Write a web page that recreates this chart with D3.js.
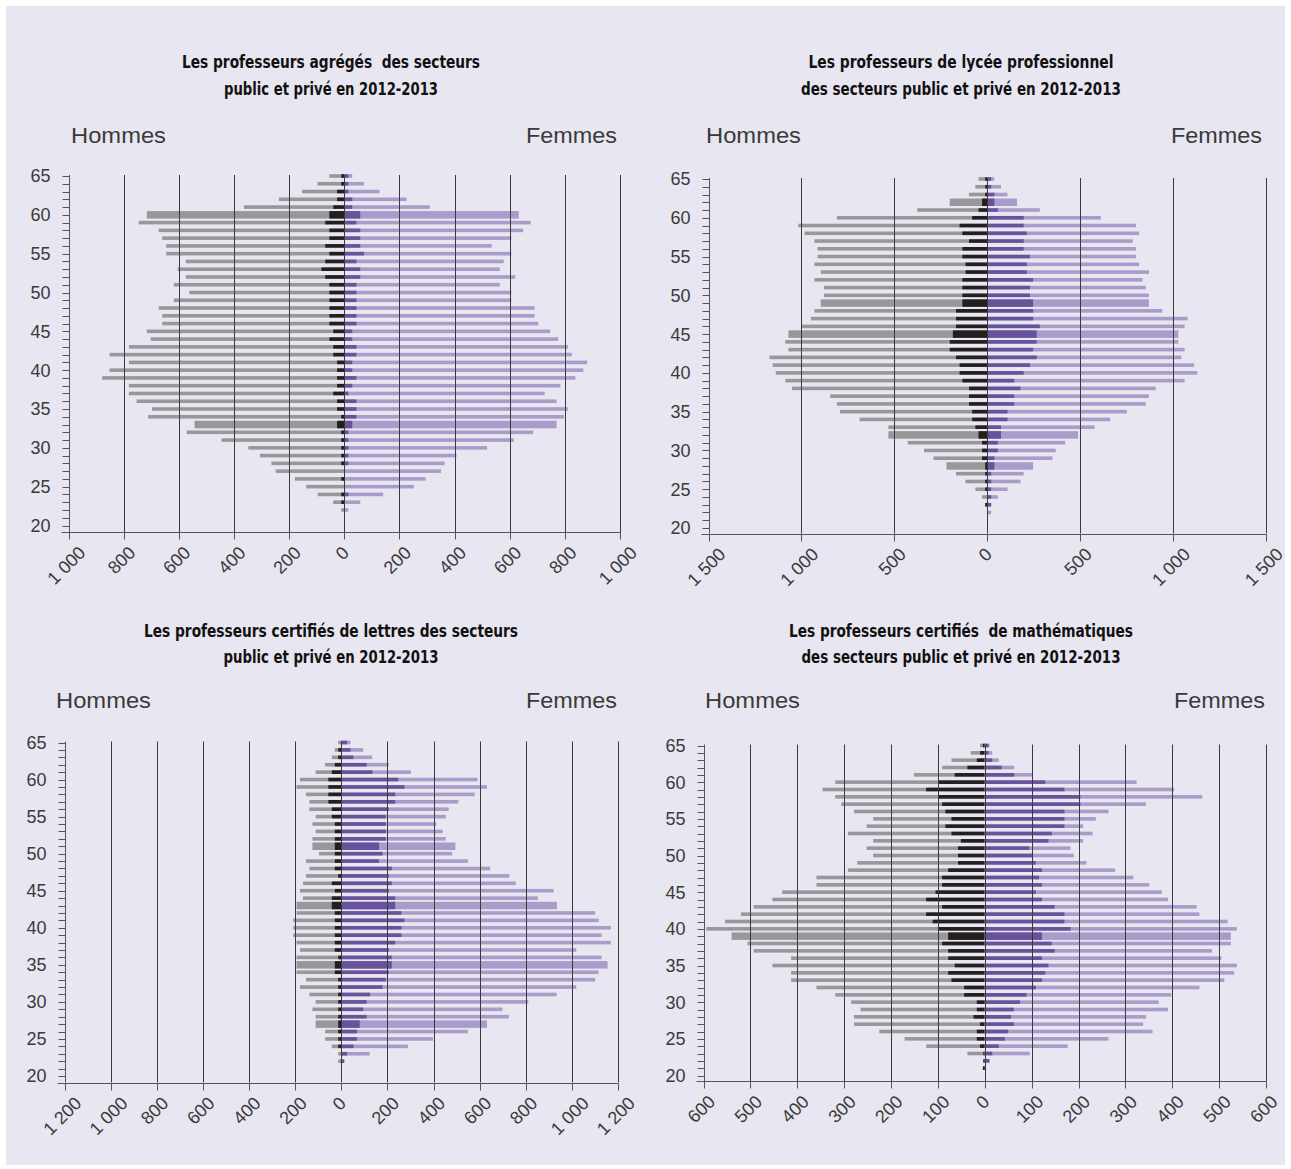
<!DOCTYPE html>
<html><head><meta charset="utf-8">
<script src="https://cdn.jsdelivr.net/npm/d3@7"></script>
<style>
body{margin:0;background:#fff}
svg text{font-family:"Liberation Sans",Arial,sans-serif}
.title{font-family:"Liberation Sans Narrow","Arial Narrow","DejaVu Sans Condensed","Liberation Sans",sans-serif;font-weight:bold;font-size:18.5px;fill:#111;white-space:pre}
</style>
</head><body>
<svg id="c" width="1291" height="1169"></svg>
<script>
// ---- Ages ----
const ages44 = d3.range(65, 21, -1);   // 65..22
const ages45 = d3.range(65, 20, -1);   // 65..21

// ---- Agrégés ----
const agrHommesTotal = [54,97,153,237,364,716,745,673,660,646,646,575,604,575,618,562,618,673,660,660,716,702,781,851,781,851,878,781,781,753,697,711,543,571,445,348,306,264,249,179,138,96,40,11];
const agrHommesPrive = [11,11,26,26,40,54,69,54,54,69,54,69,83,69,54,54,54,54,54,54,40,54,40,40,26,26,26,26,40,26,26,11,26,11,11,11,11,11,0,11,0,11,11,0];
const agrFemmesPrive = [15,15,15,29,29,58,44,58,58,58,72,44,58,58,44,44,44,44,44,44,29,29,44,44,29,29,44,29,15,44,44,44,29,15,15,15,15,15,0,0,0,15,0,0];
const agrFemmesTotal = [29,72,128,226,310,633,676,649,606,535,606,578,564,620,564,606,606,690,690,704,747,776,811,825,881,867,838,784,727,770,811,797,770,685,615,518,407,364,351,295,253,141,58,15];
const agrThick = [60,33];

// ---- Lycée professionnel ----
const plpHommesTotal = [47,64,98,202,377,809,1017,983,930,913,913,930,896,930,879,879,896,930,949,1000,1070,1087,1070,1172,1155,1138,1087,1051,845,809,792,687,532,532,428,340,289,219,168,117,64,28,11,0];
const plpHommesPrive = [11,11,11,28,47,81,149,134,98,134,134,117,117,134,134,134,134,168,168,168,185,202,202,168,149,149,134,98,98,98,81,81,64,47,28,28,28,11,11,11,11,0,11,0];
const plpFemmesPrive = [21,21,38,38,57,196,196,213,196,196,230,213,213,247,230,230,247,247,247,283,266,266,247,266,230,196,145,179,145,145,109,109,74,74,57,57,38,38,21,21,21,21,21,0];
const plpFemmesTotal = [38,74,109,160,283,611,800,817,783,800,800,817,870,836,853,870,870,941,1079,1062,1028,1028,1062,1045,1113,1130,1062,906,870,853,751,662,577,489,419,368,351,247,196,179,109,57,21,21];
const plpThick = [62,49,45,32,28];

// ---- Certifiés de lettres ----
const letHommesTotal = [13,28,41,70,111,179,194,153,138,138,111,125,111,125,125,96,153,138,153,166,179,166,194,194,208,208,208,194,179,194,194,194,153,179,138,111,125,111,111,70,70,41,13,13];
const letHommesPrive = [0,13,13,28,41,56,56,56,56,41,41,28,28,28,28,28,28,28,13,41,28,41,41,28,28,28,28,28,28,13,28,28,13,13,13,13,13,13,13,13,13,13,0,0];
const letFemmesPrive = [25,40,53,110,136,247,274,234,234,206,193,193,193,193,164,179,164,219,206,219,206,234,234,261,274,261,261,234,206,219,219,206,193,179,125,110,95,110,80,68,68,53,25,13];
const letFemmesTotal = [40,95,134,206,302,591,632,578,508,466,453,412,440,453,495,481,549,646,729,757,921,853,935,1101,1116,1169,1129,1169,1019,1129,1155,1116,1101,1019,934,811,699,727,632,549,398,289,123,13];
const letThick = [51,43,35,27];

// ---- Certifiés de mathématiques ----
const matHommesTotal = [10,30,71,91,151,319,346,319,306,279,238,252,292,238,252,238,272,292,359,359,432,453,493,520,554,594,540,506,493,413,453,413,413,359,319,285,265,279,279,225,171,125,37,3,4];
const matHommesPrive = [4,10,17,37,64,98,125,98,91,84,71,84,71,51,57,57,57,78,91,91,105,125,91,125,111,98,78,91,78,78,64,78,71,44,44,17,17,24,10,17,17,10,3,3,4];
const matFemmesPrive = [8,8,16,36,63,129,170,204,204,170,170,170,143,136,95,102,109,122,116,122,109,122,149,170,170,183,122,143,149,122,136,129,122,109,89,75,62,56,62,50,43,30,16,10,0];
const matFemmesTotal = [10,16,30,63,102,324,404,464,344,264,237,210,230,210,183,190,217,278,317,351,378,391,452,458,518,538,525,525,485,505,538,532,511,458,398,371,391,344,338,358,264,177,96,10,0];
const matThick = [39];

// ---- Titles ----
const titles = [
  ["Les professeurs agrégés  des secteurs", "public et privé en 2012-2013"],
  ["Les professeurs de lycée professionnel", "des secteurs public et privé en 2012-2013"],
  ["Les professeurs certifiés de lettres des secteurs", "public et privé en 2012-2013"],
  ["Les professeurs certifiés  de mathématiques", "des secteurs public et privé en 2012-2013"]
];
const sexLabels = ["Hommes", "Femmes"];

const COL = {bg:"#e8e6f0", gray:"#98989a", black:"#231f20", lpurple:"#a99cca", dpurple:"#67529b", grid:"#3a3a3a", text:"#3a3a3a"};

const panels = [
  {ages:ages44, ht:agrHommesTotal, hp:agrHommesPrive, fp:agrFemmesPrive, ft:agrFemmesTotal, thick:agrThick, title:titles[0],
   x0:68.5, x1:620, yT:176, yB:525.5, axisY:532, max:1000, step:200, tcx:331, tb:[68,95], tw:[298,214], sb:143, hx:71, fx:617, hw:95, fw:91},
  {ages:ages44, ht:plpHommesTotal, hp:plpHommesPrive, fp:plpFemmesPrive, ft:plpFemmesTotal, thick:plpThick, title:titles[1],
   x0:708.5, x1:1266, yT:179, yB:528, axisY:533.5, max:1500, step:500, tcx:961, tb:[68,95], tw:[305,320], sb:143, hx:706, fx:1262, hw:95, fw:91},
  {ages:ages44, ht:letHommesTotal, hp:letHommesPrive, fp:letFemmesPrive, ft:letFemmesTotal, thick:letThick, title:titles[2],
   x0:64.5, x1:618, yT:742.5, yB:1076, axisY:1082.5, max:1200, step:200, tcx:331, tb:[637,663], tw:[374,215], sb:708, hx:56, fx:617, hw:95, fw:91},
  {ages:ages45, ht:matHommesTotal, hp:matHommesPrive, fp:matFemmesPrive, ft:matFemmesTotal, thick:matThick, title:titles[3],
   x0:703.5, x1:1266, yT:745.5, yB:1075.5, axisY:1081, max:600, step:100, tcx:961, tb:[637,663], tw:[344,319], sb:708, hx:705, fx:1265, hw:95, fw:91}
];

const fmt = d3.formatLocale({decimal:",", thousands:"\u00a0", grouping:[3], currency:["","€"]}).format(",d");
const svg = d3.select("#c");
svg.append("rect").attr("x",6).attr("y",6).attr("width",1279).attr("height",1159).attr("fill",COL.bg);

panels.forEach(p => {
  const g = svg.append("g");
  const x = d3.scaleLinear().domain([-p.max, p.max]).range([p.x0, p.x1]);
  const y = d3.scaleLinear().domain([20, 65]).range([p.yB, p.yT]);
  const xt = d3.range(-p.max, p.max + 1, p.step);

  // titles
  p.title.forEach((t, i) => {
    g.append("text").attr("class","title").attr("x",p.tcx).attr("y",p.tb[i])
      .attr("text-anchor","middle").attr("textLength",p.tw[i]).attr("lengthAdjust","spacingAndGlyphs").text(t);
  });
  g.append("text").attr("x",p.hx).attr("y",p.sb).attr("font-size",22).attr("fill",COL.text)
    .attr("textLength",p.hw).attr("lengthAdjust","spacingAndGlyphs").text(sexLabels[0]);
  g.append("text").attr("x",p.fx - p.fw).attr("y",p.sb).attr("font-size",22).attr("fill",COL.text)
    .attr("textLength",p.fw).attr("lengthAdjust","spacingAndGlyphs").text(sexLabels[1]);

  // bars
  const rows = p.ages.map((a, i) => ({age:a, ht:p.ht[i], hp:p.hp[i], fp:p.fp[i], ft:p.ft[i], h: p.thick.includes(a) ? 7.5 : 3.6}));
  const bar = (cls, x1f, x2f, col) => g.selectAll("rect." + cls).data(rows).join("rect").attr("class", cls)
      .attr("x", d => Math.min(x1f(d), x2f(d))).attr("width", d => Math.abs(x2f(d) - x1f(d)))
      .attr("y", d => y(d.age) - d.h / 2).attr("height", d => d.h).attr("fill", col);
  bar("ht", d => x(-d.ht), d => x(0), COL.gray);
  bar("hp", d => x(-d.hp), d => x(0), COL.black);
  bar("ft", d => x(0), d => x(d.ft), COL.lpurple);
  bar("fp", d => x(0), d => x(d.fp), COL.dpurple);

  // gridlines (on top)
  g.selectAll("line.grid").data(xt.slice(1)).join("line").attr("class","grid")
    .attr("x1", d => Math.round(x(d)) + 0.5).attr("x2", d => Math.round(x(d)) + 0.5)
    .attr("y1", y(65) - 1).attr("y2", p.axisY).attr("stroke", COL.grid).attr("stroke-width", 1);

  // y axis
  const ax = Math.round(p.x0) + 0.5;
  g.append("line").attr("x1",ax).attr("x2",ax).attr("y1",y(65)-1).attr("y2",p.axisY).attr("stroke","#555");
  g.selectAll("line.yt").data(d3.range(20, 66)).join("line").attr("class","yt")
    .attr("x1", ax - 7).attr("x2", ax).attr("y1", d => Math.round(y(d)) + 0.5).attr("y2", d => Math.round(y(d)) + 0.5)
    .attr("stroke","#555");
  g.selectAll("text.yl").data(d3.range(20, 66, 5)).join("text").attr("class","yl")
    .attr("x", p.x0 - 18).attr("y", d => y(d)).attr("dy","0.36em").attr("text-anchor","end")
    .attr("font-size",18).attr("fill",COL.text).text(d => d);

  // x axis
  const ay = Math.round(p.axisY) + 0.5;
  g.append("line").attr("x1", p.x0 - 7).attr("x2", p.x1 + 0.5).attr("y1", ay).attr("y2", ay).attr("stroke","#555");
  g.selectAll("line.xt").data(xt).join("line").attr("class","xt")
    .attr("x1", d => Math.round(x(d)) + 0.5).attr("x2", d => Math.round(x(d)) + 0.5)
    .attr("y1", ay).attr("y2", ay + 7).attr("stroke","#555");
  const xl = g.selectAll("text.xl").data(xt).join("text").attr("class","xl")
    .attr("font-size",18).attr("fill",COL.text).attr("text-anchor","middle").attr("dominant-baseline","central")
    .text(d => fmt(Math.abs(d)));
  xl.each(function(d){
    const L = this.getComputedTextLength();
    const cy = p.axisY + 13 + (L + 13) / 2.83;
    d3.select(this).attr("transform", `translate(${x(d) - 2},${cy}) rotate(-45)`);
  });
});
</script>
</body></html>
